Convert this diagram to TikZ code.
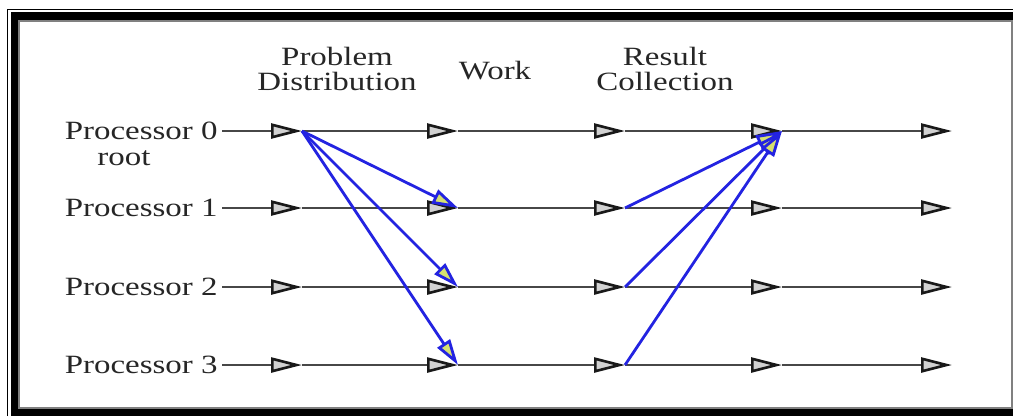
\documentclass[tikz,border=0pt]{standalone}
\usepackage{fontspec}
\setmainfont{Liberation Serif}[FakeStretch=1.25]
\usetikzlibrary{arrows.meta}

\begin{document}
\begin{tikzpicture}[x=0.02cm,y=-0.02cm]
\definecolor{msgblue}{RGB}{35,35,225}
\definecolor{tipyellow}{RGB}{214,224,112}
\tikzset{
  timeline/.style={line width=1.5pt, black!72,
    -{Triangle[length=0.62cm, width=0.3cm, fill=gray!35, color=black!90]}},
  message/.style={line width=1.6pt, msgblue,
    -{Triangle[length=0.52cm, width=0.3cm, fill=tipyellow]}},
  proclabel/.style={font=\fontsize{15}{14}\selectfont, text=black!85, inner sep=0pt},
}
\useasboundingbox (0,0) rectangle (1013,416);

% frame
\draw[line width=0.6pt] (7.5,416) -- (7.5,9.5) -- (1013,9.5);
\fill (11,12) rectangle (1013,20);
\fill (11,12) rectangle (18,416);
\fill (11,409) rectangle (1013,416);
\draw[gray, line width=0.6pt] (19,21) rectangle (1012,408);

% headers
\node[proclabel, align=center] (dist) at (337,69) {Problem\\Distribution};
\node[proclabel] (work) at (495,71) {Work};
\node[proclabel, align=center] (coll) at (665,69) {Result\\Collection};

% processor time lines
\foreach \r/\y in {0/131,1/208,2/287,3/365} {
  \foreach \c/\x in {0/222,1/302,2/458,3/625,4/782,5/952}
    \coordinate (r\r c\c) at (\x,\y);
  \node[proclabel, anchor=east] (p\r) at (218,\y) {Processor \r};
  \foreach \a/\b in {0/1,1/2,2/3,3/4,4/5}
    \draw[timeline] (r\r c\a) -- (r\r c\b);
}
\node[proclabel] (root) at (124,158) {root};

% scatter and gather
\foreach \r in {1,2,3} {
  \draw[message] (r0c1) -- (r\r c2);
  \draw[message] (r\r c3) -- (r0c4);
}
\end{tikzpicture}
\end{document}
